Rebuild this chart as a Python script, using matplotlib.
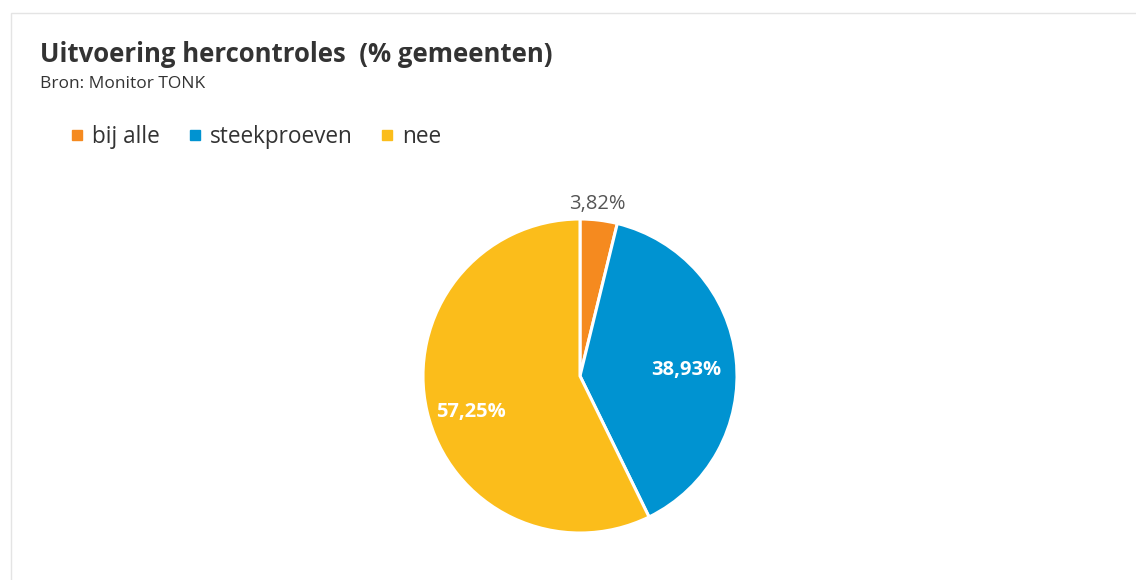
import matplotlib
matplotlib.use("Agg")
import matplotlib.pyplot as plt
from matplotlib.patches import Rectangle
from matplotlib.lines import Line2D
import numpy as np

categories = ["bij alle", "steekproeven", "nee"]
values = [3.82, 38.93, 57.25]
colors = ["#F58A1F", "#0093D1", "#FBBD1B"]
label_texts = ["3,82%", "38,93%", "57,25%"]
title = "Uitvoering hercontroles  (% gemeenten)"
subtitle = "Bron: Monitor TONK"

plt.rcParams['font.family'] = ['Open Sans', 'DejaVu Sans']

W, H = 1136, 580
fig = plt.figure(figsize=(W / 100, H / 100), dpi=100)
fig.patch.set_facecolor("white")

# card border
fig.patches.append(Rectangle((10.5 / W, -0.1), 1.2, (H - 12.5) / H + 0.1, transform=fig.transFigure,
                             facecolor="none", edgecolor="#e4e4e4", linewidth=1.0, zorder=-1))

fig.text(40 / W, 1 - 62 / H, title, fontsize=18.5, fontweight="bold", color="#333333",
         ha="left", va="baseline")
fig.text(40 / W, 1 - 87.5 / H, subtitle, fontsize=12.5, color="#333333", ha="left", va="baseline")

# pie
cx, cy, r = 580, 376, 157
ax = fig.add_axes([(cx - r) / W, (H - cy - r) / H, 2 * r / W, 2 * r / H])
wedges, _ = ax.pie(values, colors=colors, startangle=90, counterclock=False, radius=1.0,
                   wedgeprops=dict(edgecolor="white", linewidth=2.2))
ax.set_xlim(-1, 1)
ax.set_ylim(-1, 1)
ax.set_aspect("equal")
ax.axis("off")

# data labels
total = sum(values)
start = 90.0
dists = [1.12, 0.70, 0.73]
offsets_pt = [(-2.5, -2), (-2, -4.5), (2, -7)]
tcolors = ["#555555", "white", "white"]
for v, lab, d, off, tc in zip(values, label_texts, dists, offsets_pt, tcolors):
    span = 360.0 * v / total
    mid = np.deg2rad(start - span / 2)
    start -= span
    ax.annotate(lab, (d * np.cos(mid), d * np.sin(mid)), xytext=off, textcoords="offset points",
                ha="center", va="center", fontsize=14.5, color=tc,
                fontweight="bold" if tc == "white" else "normal", annotation_clip=False)

handles = [Line2D([0], [0], marker="s", linestyle="none", markersize=6.5,
                  markerfacecolor=c, markeredgecolor=c) for c in colors]
fig.legend(handles, categories, loc="center left", bbox_to_anchor=(72 / W, 1 - 137 / H),
           ncol=3, frameon=False, fontsize=16.3, labelcolor="#333333",
           handlelength=0.45, handletextpad=0.45, columnspacing=1.3, borderaxespad=0, borderpad=0)

fig.savefig("out.png", dpi=100, facecolor="white")
